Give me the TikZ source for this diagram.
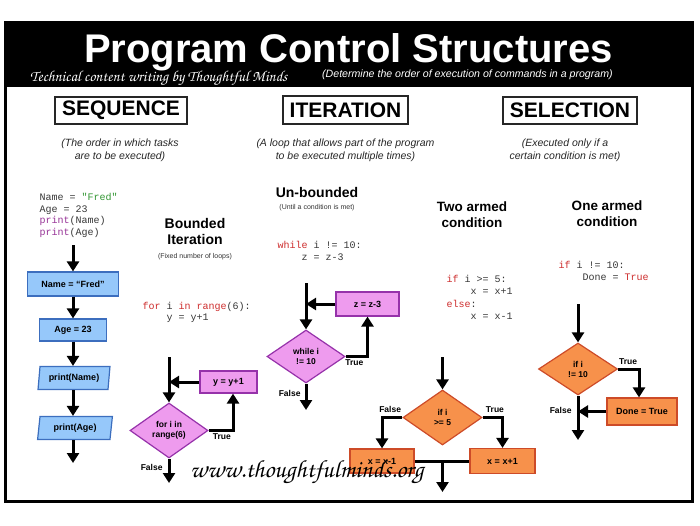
\documentclass[tikz,border=0pt]{standalone}
\usepackage{fontspec}
\setmainfont{Liberation Sans}
\setmonofont{Liberation Mono}
\usetikzlibrary{positioning, shapes.geometric, arrows.meta}
\definecolor{seqfill}{RGB}{150,200,250}
\definecolor{seqline}{RGB}{60,110,190}
\definecolor{loopfill}{RGB}{238,155,238}
\definecolor{loopline}{RGB}{150,50,170}
\definecolor{selfill}{RGB}{247,145,75}
\definecolor{selline}{RGB}{205,75,40}
\definecolor{keyred}{RGB}{205,45,45}
\definecolor{strgreen}{RGB}{50,150,50}
\definecolor{fnpurple}{RGB}{150,50,150}
\definecolor{codegray}{RGB}{55,55,55}
\newcommand{\chanceryfont}{\fontencoding{OT1}\fontfamily{pzc}\fontseries{mb}\fontshape{it}\selectfont}
\newcommand{\kw}[1]{{\color{keyred}#1}}

\begin{document}
\begin{tikzpicture}[x=1pt, y=-1pt,
  arr/.style={line width=3pt, -{Triangle[width=12pt,length=10pt]}},
  headbox/.style={draw=black!85, line width=1.2pt, inner sep=0pt, font=\bfseries\fontsize{21}{24}\selectfont},
  note/.style={align=center, font=\itshape\fontsize{10.5}{13}\selectfont, text=black!85},
  head/.style={align=center, font=\bfseries\fontsize{14}{16}\selectfont},
  tinynote/.style={font=\fontsize{7}{8}\selectfont, text=black!80},
  code/.style={align=left, anchor=base west, text=codegray, font=\ttfamily\fontsize{10}{12}\selectfont},
  seqbox/.style={draw=seqline, fill=seqfill, line width=1.2pt, inner sep=0pt, font=\bfseries\fontsize{9}{10}\selectfont},
  seqio/.style={seqbox, trapezium, trapezium left angle=80, trapezium right angle=100, trapezium stretches=true},
  loopbox/.style={draw=loopline, fill=loopfill, line width=1.2pt, inner sep=0pt, font=\bfseries\fontsize{9}{10}\selectfont},
  loopdia/.style={loopbox, diamond, align=center, font=\bfseries\fontsize{8.5}{10}\selectfont},
  selbox/.style={draw=selline, fill=selfill, line width=1.2pt, inner sep=0pt, font=\bfseries\fontsize{9}{10}\selectfont},
  seldia/.style={selbox, diamond, align=center, font=\bfseries\fontsize{8.5}{10}\selectfont},
  lbl/.style={font=\bfseries\fontsize{8.5}{10}\selectfont, inner sep=1pt}]
\useasboundingbox (0,0) rectangle (700,525);
\fill[black] (4,21) rectangle (694,87);
\draw[line width=3pt] (5.5,22.5) rectangle (692.5,501.5);
\node[font=\bfseries\fontsize{40}{44}\selectfont, text=white, anchor=base, inner sep=0pt] (title) at (348.5,62) {Program Control Structures};
\node[font=\chanceryfont\fontsize{15.3}{17}\selectfont, text=white, anchor=base west, inner sep=0pt] (credit) at (30,81) {Technical content writing by Thoughtful Minds};
\node[font=\itshape\fontsize{10.6}{12}\selectfont, text=white, anchor=base west, inner sep=0pt] (purpose) at (322,77) {(Determine the order of execution of commands in a program)};

\node[headbox, minimum width=132pt, minimum height=27pt] (sequence) at (121,110.5) {SEQUENCE};
\node[headbox, minimum width=125pt, minimum height=28pt] (iteration) at (345.5,110) {ITERATION};
\node[headbox, minimum width=134pt, minimum height=27pt] (selection) at (570,110.5) {SELECTION};
\node[note] (seqnote) at (120,150.5) {(The order in which tasks\\are to be executed)};
\node[note] (iternote) at (345.5,150.5) {(A loop that allows part of the program\\to be executed multiple times)};
\node[note] (selnote) at (565,150.5) {(Executed only if a\\certain condition is met)};

\node[code, font=\ttfamily\fontsize{10}{11.7}\selectfont] (seqcode) at (36,235.5) {Name = {\color{strgreen}"Fred"}\\Age = 23\\{\color{fnpurple}print}(Name)\\{\color{fnpurple}print}(Age)};
\coordinate (s0) at (73,245);
\node[seqbox, minimum width=91pt, minimum height=24pt] (name) at (73,284) {Name = “Fred”};
\node[seqbox, minimum width=67pt, minimum height=22pt] (age) at (73,330) {Age = 23};
\node[seqio, minimum width=72pt, minimum height=23pt] (prname) at (74,378) {print(Name)};
\node[seqio, minimum width=75pt, minimum height=23pt] (prage) at (75,428) {print(Age)};
\coordinate (s5) at (73,463);
\draw[arr] (s0) -- (name);
\draw[arr] (name) -- (age);
\draw[arr] (age) -- (age |- prname.north);
\draw[arr] (prname.south -| age) -- (age |- prage.north);
\draw[arr] (prage.south -| age) -- (s5);

\node[head] (bounded) at (195,231) {Bounded\\Iteration};
\node[tinynote] (boundednote) at (195,257) {(Fixed number of loops)};
\node[code, font=\ttfamily\fontsize{10}{11}\selectfont] (forcode) at (139,320.5) {\kw{for} i \kw{in} \kw{range}(6):\\\phantom{xxxx}y = y+1};
\coordinate (b0) at (169,357);
\node[loopdia, minimum width=78pt, minimum height=55pt] (fordia) at (169,430.5) {for i in\\range(6)};
\node[loopbox, minimum width=57pt, minimum height=22pt] (incy) at (228.5,382) {y = y+1};
\coordinate (bjoin) at (b0 |- incy.west);
\coordinate (bend) at (169,483);
\draw[arr] (b0) -- (fordia.north);
\draw[arr] (incy.west) -- (bjoin);
\draw[arr] (fordia.east) -| node[lbl, pos=0.27, below=1pt] {True} ([xshift=4.5pt]incy.south);
\draw[arr] (fordia.south) -- node[lbl, pos=0.36, left=4pt] {False} (bend);

\node[head] (unbounded) at (317,192) {Un-bounded};
\node[tinynote] (unboundednote) at (317,208) {(Until a condition is met)};
\node[code] (whilecode) at (274,260.5) {\kw{while} i != 10:\\\phantom{xxxx}z = z-3};
\coordinate (u0) at (306,283);
\node[loopdia, minimum width=78pt, minimum height=53pt] (whiledia) at (306,356.5) {while i\\!= 10};
\node[loopbox, minimum width=63pt, minimum height=24pt] (decz) at (367.5,304) {z = z-3};
\coordinate (ujoin) at (u0 |- decz.west);
\coordinate (uend) at (306,410);
\draw[arr] (u0) -- (whiledia.north);
\draw[arr] (decz.west) -- (ujoin);
\draw[arr] (whiledia.east) -| node[lbl, pos=0.2, below=1pt] {True} (decz.south);
\draw[arr] (whiledia.south) -- node[lbl, pos=0.37, left=3pt] {False} (uend);

\node[head, font=\bfseries\fontsize{13.5}{16}\selectfont] (twoarmed) at (472,215) {Two armed\\condition};
\node[code, font=\ttfamily\fontsize{10}{12.3}\selectfont] (ifelsecode) at (443,319.5) {\kw{if} i >= 5:\\\phantom{xxxx}x = x+1\\\kw{else}:\\\phantom{xxxx}x = x-1};
\coordinate (t0) at (442.5,357);
\node[seldia, minimum width=79pt, minimum height=55pt] (ifdia) at (442.5,417.5) {if i\\>= 5};
\node[selbox, minimum width=64pt, minimum height=24pt] (decx) at (382,461) {x = x-1};
\node[selbox, minimum width=65pt, minimum height=25pt] (incx) at (502.5,461) {x = x+1};
\coordinate (tmerge) at (ifdia.south |- decx.east);
\coordinate (tend) at (442.5,492);
\draw[arr] (t0) -- (ifdia.north);
\draw[arr] (ifdia.west) -| node[lbl, pos=0.3, above=2pt] {False} (decx.north);
\draw[arr] (ifdia.east) -| node[lbl, pos=0.31, above=2pt] {True} (incx.north);
\draw[line width=3pt] (decx.east) -- (incx.west);
\draw[arr] (tmerge) -- (tend);

\node[head, font=\bfseries\fontsize{13.5}{16.5}\selectfont] (onearmed) at (607,213.5) {One armed\\condition};
\node[code] (ifcode) at (555,280.5) {\kw{if} i != 10:\\\phantom{xxxx}Done = \kw{True}};
\coordinate (o0) at (578,304);
\node[seldia, minimum width=79pt, minimum height=52pt] (onedia) at (578,369) {if i\\!= 10};
\node[selbox, minimum width=70pt, minimum height=27pt] (done) at (642,411.5) {Done = True};
\coordinate (ojoin) at (o0 |- done.west);
\coordinate (oend) at (578,440);
\draw[arr] (o0) -- (onedia.north);
\draw[arr] (onedia.east) -| node[lbl, pos=0.24, above=2pt] {True} ([xshift=-3pt]done.north);
\draw[arr] (done.west) -- (ojoin);
\draw[arr] (onedia.south) -- node[lbl, pos=0.33, left=4pt] {False} (oend);

\node[font=\chanceryfont\fontsize{24.8}{26}\selectfont, anchor=base west, inner sep=0pt] (site) at (190,477) {www.thoughtfulminds.org};
\end{tikzpicture}
\end{document}
